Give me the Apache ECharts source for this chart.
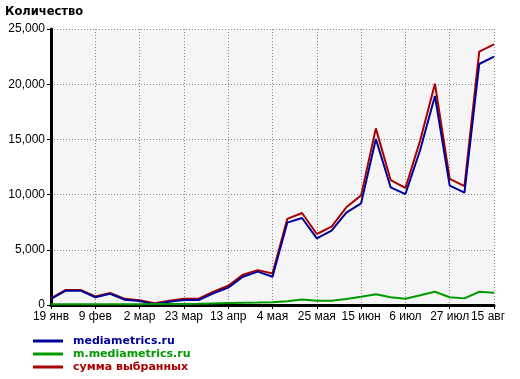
<!DOCTYPE html>
<html><head><meta charset="utf-8">
<script src="https://cdn.jsdelivr.net/npm/echarts@6/dist/echarts.min.js"></script>
<style>html,body{margin:0;padding:0;background:#fff}#c{width:520px;height:379px}</style>
</head><body><div id="c"></div>
<script>
var categories = ['19 янв','26 янв','2 фев','9 фев','16 фев','23 фев','2 мар','9 мар','16 мар','23 мар','30 мар','6 апр','13 апр','20 апр','27 апр','4 мая','11 мая','18 мая','25 мая','1 июн','8 июн','15 июн','22 июн','29 июн','6 июл','13 июл','20 июл','27 июл','3 авг','10 авг','15 авг'];
var seriesNames = ['mediametrics.ru','m.mediametrics.ru','сумма выбранных'];
var mainSite = [545,1300,1300,700,1020,480,360,60,300,450,450,1060,1570,2560,3020,2565,7460,7880,6040,6730,8360,9210,15040,10660,10050,14040,18930,10810,10180,21830,22490];
var mobileSite = [60,60,60,60,65,70,70,80,90,100,110,140,170,200,220,250,350,500,390,390,540,750,970,700,570,880,1200,700,600,1200,1110];
var totalSum = [610,1370,1370,770,1090,560,440,150,390,560,570,1200,1740,2750,3160,2850,7800,8330,6430,7100,8850,9930,16000,11320,10600,14900,20050,11420,10760,22950,23600];
var yTicks = [0,5000,10000,15000,20000,25000];

var chart = echarts.init(document.getElementById('c'));
var font = '"Liberation Sans", Arial, sans-serif';
var boldFont = '"DejaVu Sans", Verdana, sans-serif';
var colors = ['#000099','#009900','#aa0000'];
var lastIdx = categories.length - 1;
chart.setOption({
  animation: false,
  title: {text: 'Количество', left: 5, top: 6, padding: 0, textStyle: {fontFamily: boldFont, fontWeight: 'bold', fontSize: 11.5, color: '#000'}},
  grid: {left: 51, right: 26, top: 29, bottom: 74, show: true, backgroundColor: '#f5f5f5', borderWidth: 0},
  legend: {
    orient: 'vertical', left: 33, top: 335, height: 60, padding: 0, itemWidth: 30, itemHeight: 3, itemGap: 1, icon: 'rect',
    textStyle: {fontFamily: boldFont, fontWeight: 'bold', fontSize: 11, lineHeight: 12, padding: [0,0,0,5]},
    data: seriesNames.map(function(n, i){ return {name: n, textStyle: {color: colors[i]}}; })
  },
  xAxis: {
    type: 'category', data: categories, boundaryGap: false,
    axisLine: {lineStyle: {color: '#000', width: 3}},
    axisTick: {interval: 2, length: 4, lineStyle: {color: '#000', width: 1}},
    axisLabel: {interval: 2, color: '#000', fontFamily: font, fontSize: 12, margin: 6,
      formatter: function(v, i){ return i === lastIdx ? '{s|' + v + '}' : v; },
      rich: {s: {fontFamily: font, fontSize: 12, color: '#000', padding: [0,12,0,0]}}},
    splitLine: {show: true, interval: 2, lineStyle: {color: '#888', width: 1, type: [1,2]}}
  },
  yAxis: {
    type: 'value', min: yTicks[0], max: yTicks[yTicks.length-1], interval: 5000,
    axisLine: {show: true, lineStyle: {color: '#000', width: 3}},
    axisTick: {show: true, length: 4, lineStyle: {color: '#000', width: 1}},
    axisLabel: {color: '#000', fontFamily: font, fontSize: 12, margin: 6, formatter: function(v){ return v.toLocaleString('en-US'); }},
    splitLine: {show: true, lineStyle: {color: '#888', width: 1, type: [1,2]}}
  },
  series: [
    {name: seriesNames[0], type: 'line', data: mainSite, showSymbol: false, z: 3, lineStyle: {color: colors[0], width: 2}, itemStyle: {color: colors[0]}},
    {name: seriesNames[1], type: 'line', data: mobileSite, showSymbol: false, z: 4, lineStyle: {color: colors[1], width: 2}, itemStyle: {color: colors[1]}},
    {name: seriesNames[2], type: 'line', data: totalSum, showSymbol: false, z: 2, lineStyle: {color: colors[2], width: 2}, itemStyle: {color: colors[2]}}
  ]
});
</script></body></html>
